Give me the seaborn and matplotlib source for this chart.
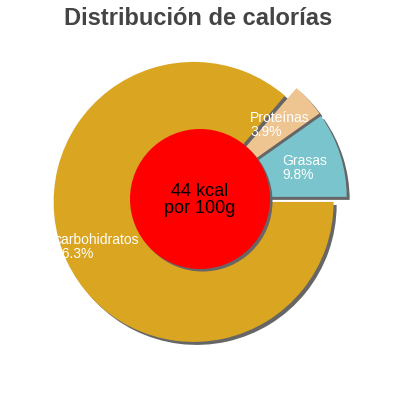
import matplotlib
matplotlib.use("Agg")
import matplotlib.pyplot as plt
import seaborn as sns
from matplotlib.patches import Circle

# ---- data ----
categories = ["Grasas", "Proteínas", "carbohidratos"]
percentages = [9.8, 3.9, 86.3]
colors = ["#7AC5CD", "#EEC591", "#DAA520"]
title = "Distribución de calorías"
center_text = "44 kcal\npor 100g"

sns.set_theme(style="white")
plt.rcParams["font.family"] = ["Liberation Sans", "DejaVu Sans"]

W = H = 400
fig = plt.figure(figsize=(4, 4), dpi=100)
ax = fig.add_axes([0, 0, 1, 1])

def sy(y):  # screen y (px from top) -> data y
    return H - y

cx, cy = 200, sy(199)
R = 140
explode = [7, 7, 7]
shadow_col = "#666666"
sh = 3

# shadow pie
ax.pie(percentages, radius=R, center=(cx + sh, cy - sh), explode=explode,
       colors=[shadow_col] * len(percentages), startangle=0, counterclock=True,
       wedgeprops=dict(linewidth=0))
# main pie
ax.pie(percentages, radius=R, center=(cx, cy), explode=explode,
       colors=sns.color_palette(colors), startangle=0, counterclock=True,
       wedgeprops=dict(linewidth=0))

# center circle with shadow
ax.add_patch(Circle((cx + 2.5, cy - 2.5), 70, facecolor=shadow_col, linewidth=0, zorder=5))
ax.add_patch(Circle((cx, cy), 70, facecolor="#FF0000", linewidth=0, zorder=6))
ax.text(cx, cy - 1, center_text, ha="center", va="center", fontsize=13,
        color="black", linespacing=1.0, zorder=7)

# slice labels (left-aligned, white)
label_pos = [(282, 168), (250, 125), (54, 247)]
for name, pct, (x, y) in zip(categories, percentages, label_pos):
    ax.text(x, sy(y), f"{name}\n{pct}%", ha="left", va="center", fontsize=10,
            color="white", linespacing=0.95, zorder=8)

ax.set_xlim(0, W)
ax.set_ylim(0, H)
ax.set_aspect("equal")
ax.axis("off")

fig.text(0.495, 1 - 25 / H, title, ha="center", va="baseline", fontsize=17,
         fontweight="bold", color="#444444")

fig.savefig("out.png", dpi=100, facecolor="white")
